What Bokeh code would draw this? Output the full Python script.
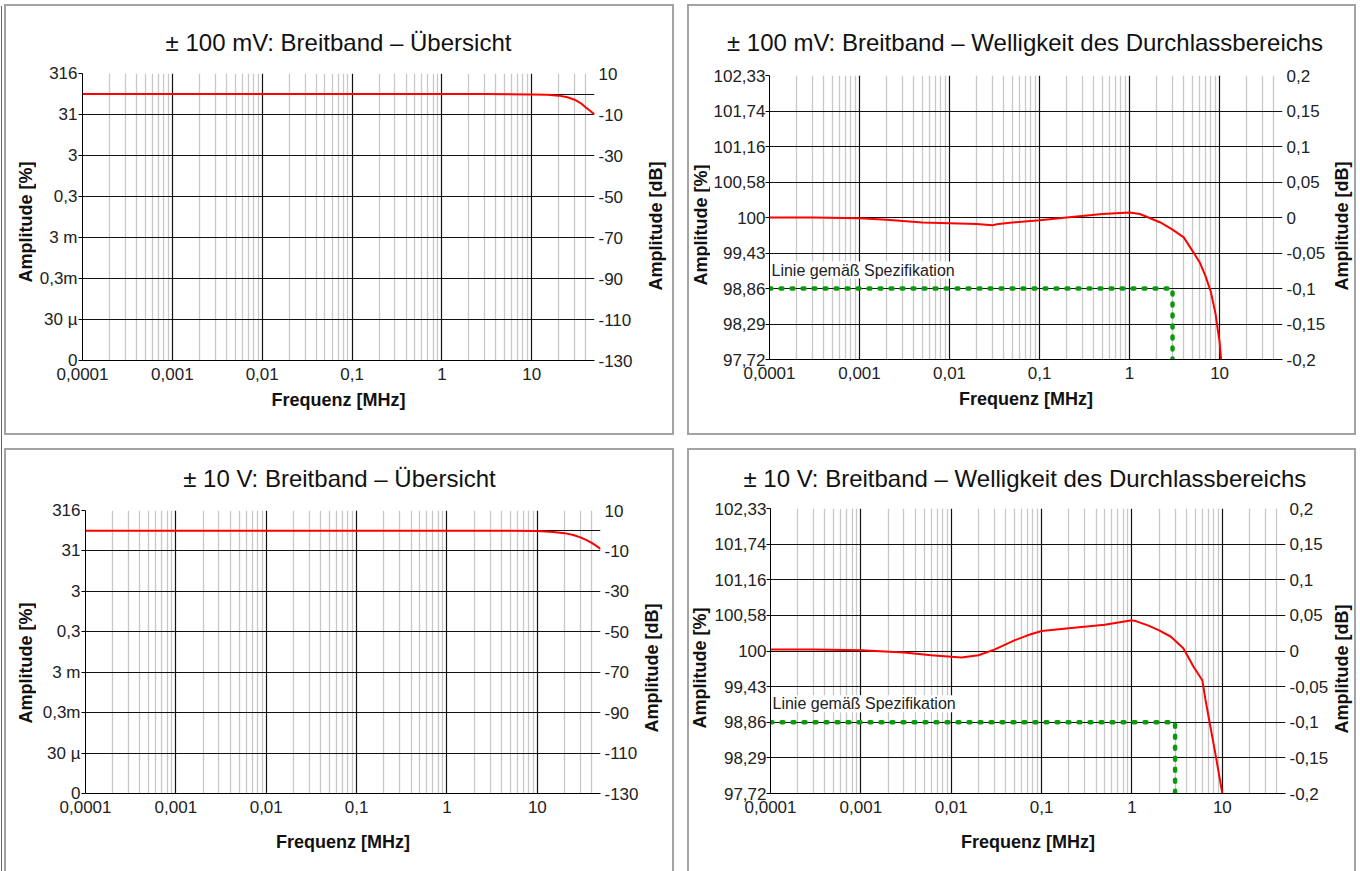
import math
from bokeh.plotting import figure
from bokeh.models import Range1d, LinearAxis, FixedTicker, Label
from bokeh.core.properties import value
from bokeh.layouts import row, column
from bokeh.embed import file_html
from bokeh.resources import INLINE

FONT = "Liberation Sans"

# ---------------- data ----------------
freq_major = [0.0001, 0.001, 0.01, 0.1, 1, 10]
freq_labels = ["0,0001", "0,001", "0,01", "0,1", "1", "10"]
freq_minor = [m * d for d in freq_major for m in range(2, 10) if m * d <= 50.0001]
freq_min, freq_max = 0.0001, 50

# overview axes (dB scale, left axis shown as percent)
ov_db_ticks = [10, -10, -30, -50, -70, -90, -110, -130]
ov_pct_labels = ["316", "31", "3", "0,3", "3 m", "0,3m", "30 µ", "0"]
ov_db_labels = ["10", "-10", "-30", "-50", "-70", "-90", "-110", "-130"]
ov_grid = [10, 0, -10, -30, -50, -70, -90, -110, -130]

# ripple axes
rp_db_ticks = [0.2, 0.15, 0.1, 0.05, 0, -0.05, -0.1, -0.15, -0.2]
rp_pct_labels = ["102,33", "101,74", "101,16", "100,58", "100", "99,43", "98,86", "98,29", "97,72"]
rp_db_labels = ["0,2", "0,15", "0,1", "0,05", "0", "-0,05", "-0,1", "-0,15", "-0,2"]

# +-100 mV overview
ov100_f = [0.0001, 0.001, 0.01, 0.1, 1, 3, 10, 15, 20, 25, 30, 35, 40, 45, 50]
ov100_db = [0, 0, 0, 0, 0, -0.05, -0.2, -0.4, -0.8, -1.6, -2.8, -4.4, -6.6, -8.3, -10.0]

# +-10 V overview
ov10_f = [0.0001, 0.001, 0.01, 0.1, 1, 3, 10, 15, 20, 25, 30, 35, 40, 45, 50]
ov10_db = [0, 0, 0, 0.03, 0.04, 0.02, -0.2, -0.6, -1.2, -2.1, -3.3, -4.7, -6.0, -7.5, -9.0]

# +-100 mV ripple
rp100_f = [0.0001, 0.0003, 0.001, 0.002, 0.005, 0.01, 0.02, 0.03, 0.035, 0.05, 0.1, 0.2,
           0.5, 1.0, 1.3, 1.7, 2.2, 3.0, 4.0, 5.0, 6.0, 7.0, 8.0, 9.0, 9.6, 10.0, 10.4]
rp100_db = [0.000, 0.000, -0.001, -0.003, -0.007, -0.008, -0.009, -0.011, -0.009, -0.007,
            -0.004, 0.000, 0.005, 0.007, 0.005, -0.001, -0.007, -0.017, -0.028, -0.047,
            -0.063, -0.083, -0.105, -0.135, -0.160, -0.175, -0.200]

# +-10 V ripple
rp10_f = [0.0001, 0.0003, 0.001, 0.003, 0.006, 0.01, 0.013, 0.02, 0.03, 0.05, 0.07, 0.1,
          0.2, 0.5, 1.0, 1.1, 1.5, 2.0, 2.7, 3.7, 4.8, 6.0, 6.5, 7.4, 8.4, 9.6, 10.0]
rp10_db = [0.002, 0.002, 0.001, -0.002, -0.006, -0.008, -0.009, -0.006, 0.002, 0.015, 0.022,
           0.028, 0.032, 0.037, 0.043, 0.042, 0.036, 0.029, 0.020, 0.004, -0.022, -0.041,
           -0.068, -0.107, -0.145, -0.187, -0.200]

# specification line
spec_f = [0.0001, 3, 3]
spec_db = [-0.1, -0.1, -0.2]
spec_text = "Linie gemäß Spezifikation"

titles = [
    "± 100 mV: Breitband – Übersicht",
    "± 100 mV: Breitband – Welligkeit des Durchlassbereichs",
    "± 10 V: Breitband – Übersicht",
    "± 10 V: Breitband – Welligkeit des Durchlassbereichs",
]
x_label = "Frequenz [MHz]"
y_left_label = "Amplitude [%]"
y_right_label = "Amplitude [dB]"


def style_axis(ax, labels_map, tick_out):
    ax.major_label_overrides = labels_map
    ax.major_label_text_font = FONT
    ax.major_label_text_font_size = "17px"
    ax.major_label_text_color = "#222222"
    ax.axis_label_text_font = FONT
    ax.axis_label_text_font_size = "18px"
    ax.axis_label_text_font_style = "bold"
    ax.axis_label_text_color = "#111111"
    ax.minor_tick_line_color = None
    ax.major_tick_out = tick_out
    ax.major_tick_in = 0
    ax.major_tick_line_color = "black" if tick_out else None


def text_fig(w, h, tx, ty, text, size, style, angle, align, y0=None, y1=None):
    # y0/y1: the pixel span (from the figure bottom) that the figure's frame covers
    if y0 is None:
        y0, y1 = 0, h
    f = figure(width=w, height=h, x_range=Range1d(0, w), y_range=Range1d(y0, y1),
               output_backend="svg", toolbar_location=None, min_border=0,
               x_axis_location=None, y_axis_location=None, title=None)
    f.grid.visible = False
    f.outline_line_color = None
    f.background_fill_color = "white"
    f.border_fill_color = "white"
    f.text(x=[tx], y=[ty], text=[text], angle=angle, text_align=align,
           text_baseline="middle", text_font=value(FONT), text_font_size=value(size),
           text_font_style=style, text_color="#111111")
    return f


def make_main(ripple, f, db, W, H, ml, mr, mt, mb, xl_standoff, left_standoff):
    if ripple:
        ylo, yhi = -0.2, 0.2
        ticks, pct, dbl, grid = rp_db_ticks, rp_pct_labels, rp_db_labels, rp_db_ticks
    else:
        ylo, yhi = -130, 10
        ticks, pct, dbl, grid = ov_db_ticks, ov_pct_labels, ov_db_labels, ov_grid

    p = figure(width=W, height=H, x_axis_type="log", title=None,
               x_range=Range1d(freq_min, freq_max), y_range=Range1d(ylo, yhi),
               output_backend="svg", toolbar_location=None,
               min_border_left=ml, min_border_right=mr,
               min_border_top=mt, min_border_bottom=mb)
    p.outline_line_color = None
    p.background_fill_color = "white"
    p.border_fill_color = "white"

    # x axis
    xa = p.xaxis[0]
    xa.ticker = FixedTicker(ticks=freq_major)
    style_axis(xa, dict(zip(freq_major, freq_labels)), 0)
    xa.axis_label = x_label
    xa.axis_label_standoff = xl_standoff
    xa.major_label_standoff = 7
    xa.axis_line_color = "black"

    # left axis (percent)
    ya = p.yaxis[0]
    ya.ticker = FixedTicker(ticks=ticks)
    style_axis(ya, dict(zip(ticks, pct)), 4)
    ya.major_label_standoff = left_standoff
    ya.axis_line_color = "black"

    # right axis (dB)
    ra = LinearAxis(ticker=FixedTicker(ticks=ticks))
    style_axis(ra, dict(zip(ticks, dbl)), 0)
    ra.axis_line_color = None
    ra.major_label_standoff = 4
    p.add_layout(ra, "right")

    # grids
    p.xgrid.ticker = FixedTicker(ticks=freq_major, minor_ticks=freq_minor)
    p.xgrid.grid_line_color = "#111111"
    p.xgrid.grid_line_width = 1.2
    p.xgrid.minor_grid_line_color = "#c8c8c8"
    p.xgrid.minor_grid_line_width = 1.3
    p.ygrid.ticker = FixedTicker(ticks=grid)
    p.ygrid.grid_line_color = "#111111"
    p.ygrid.grid_line_width = 1.2

    if ripple:
        p.line(spec_f, spec_db, line_color="#0a990a", line_width=4.5,
               line_dash="2 9", line_cap="round")
        p.add_layout(Label(x=freq_min, y=-0.1, x_offset=2, y_offset=10,
                           text=spec_text, text_font=FONT, text_font_size="16px",
                           text_color="#222222", text_baseline="bottom",
                           background_fill_color="white"))
    p.line(f, db, line_color="#ff0000", line_width=2)
    return p


def make_panel(title, ripple, f, db, cfg):
    (tw, th, tx, ty, lw, lx, ly, mw, mh, ml, mr, mt, mb, rw, rx, ry, xls, lso) = cfg
    t = text_fig(tw, th, tx, ty, title, "24px", "normal", 0, "center")
    # side figures in a row get their frame aligned with the main plot frame
    lf = text_fig(lw, mh, lx, ly, y_left_label, "18px", "bold", math.pi / 2, "left",
                  mb, mh - mt)
    m = make_main(ripple, f, db, mw, mh, ml, mr, mt, mb, xls, lso)
    rf = text_fig(rw, mh, rx, ry, y_right_label, "18px", "bold", math.pi / 2, "left",
                  mb, mh - mt)
    panel = column(t, row(lf, m, rf, spacing=0), spacing=0)
    panel.styles = {"outline": "2px solid #a3a3a3"}
    return panel


#       tw   th  tx     ty  lw  lx    ly     mw   mh   ml  mr  mt  mb  rw  rx    ry     xls lso
cfg1 = (666, 55, 332.0, 19, 30, 19.0, 151.0, 604, 372, 46, 46, 12, 73, 32, 15.0, 143.0, 7, 1)
cfg2 = (665, 57, 335.5, 21, 21, 11.0, 148.0, 620, 370, 57, 48, 12, 74, 24, 11.7, 143.0, 7, 0)
cfg3 = (666, 48, 333.0, 20, 30, 19.0, 148.0, 605, 373, 49, 41, 12, 78, 31, 10.7, 139.0, 16, 1)
cfg4 = (665, 46, 335.4, 18, 22, 10.6, 143.0, 620, 375, 58, 46, 12, 78, 23, 10.7, 138.0, 16, 0)

P1 = make_panel(titles[0], False, ov100_f, ov100_db, cfg1)
P2 = make_panel(titles[1], True, rp100_f, rp100_db, cfg2)
P3 = make_panel(titles[2], False, ov10_f, ov10_db, cfg3)
P4 = make_panel(titles[3], True, rp10_f, rp10_db, cfg4)

layout = column(row(P1, P2, spacing=17), row(P3, P4, spacing=17), spacing=17)
layout.margin = (6, 0, 0, 6)
layout.styles = {"box-shadow": "-4px 0 0 0 white, -5px 0 0 0 #666666"}

open("out.html", "w").write(file_html(layout, INLINE))
